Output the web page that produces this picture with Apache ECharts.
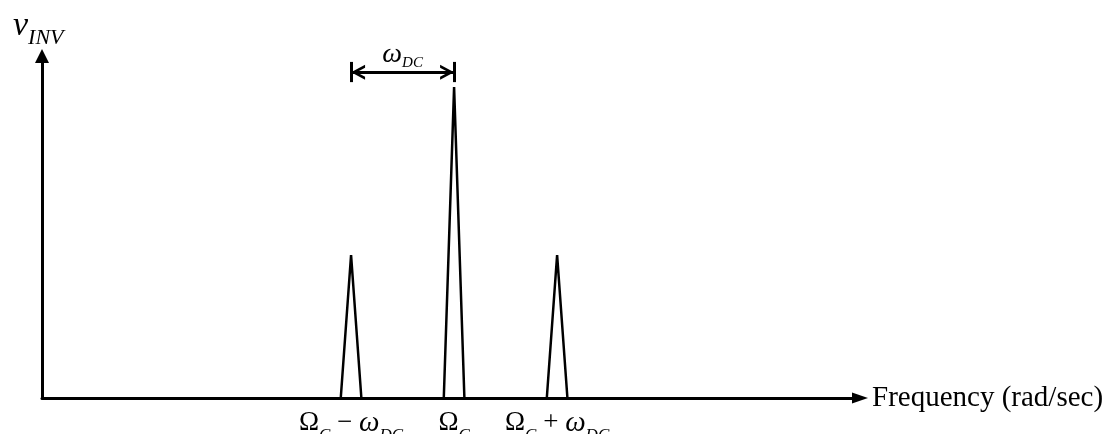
<!DOCTYPE html>
<html>
<head>
<meta charset="utf-8">
<script src="https://cdn.jsdelivr.net/npm/echarts@6/dist/echarts.min.js"></script>
<style>
  html, body { margin: 0; padding: 0; background: #fff; }
  #chart { width: 1106px; height: 434px; }
</style>
</head>
<body>
<div id="chart"></div>
<script>
// frequency in units of omega_DC, carrier Omega_C = 4
var lowerSpike = [[2.9, 0], [3, 0.46], [3.1, 0]];
var carrierSpike = [[3.9, 0], [4, 1.0], [4.1, 0]];
var upperSpike = [[4.9, 0], [5, 0.46], [5.1, 0]];

var tickValues = [3, 4, 5];
var tickLabels = [
    '{om|Ω}{sub|C}{op| − }{w|ω}{sub|DC}',
    '{om|Ω}{sub|C}',
    '{om|Ω}{sub|C}{op| + }{w|ω}{sub|DC}'
];

// bracket showing the spacing omega_DC between sidebands
var bracketLevel = 1.048;
var bracketTick = [1.016, 1.081];
var bracketFrom = 3, bracketTo = 4;

var serif = 'Liberation Serif';
var chartDom = document.getElementById('chart');
var myChart = echarts.init(chartDom);

var chevron = 'path://M0,10L5,0L10,10L8,10L5,4L2,10Z';

function spikeSeries(name, data) {
    return {
        type: 'line',
        name: name,
        data: data,
        showSymbol: false,
        silent: true,
        lineStyle: { color: '#000', width: 2.5 },
        z: 3
    };
}

var carrier = spikeSeries('carrier', carrierSpike);
carrier.markLine = {
    silent: true,
    animation: false,
    symbol: 'none',
    lineStyle: { color: '#000', width: 3, type: 'solid' },
    label: { show: false },
    data: [
        [{ coord: [bracketFrom, bracketTick[0]] }, { coord: [bracketFrom, bracketTick[1]] }],
        [{ coord: [bracketTo, bracketTick[0]] }, { coord: [bracketTo, bracketTick[1]] }],
        [
            {
                coord: [bracketFrom, bracketLevel],
                symbol: chevron,
                symbolSize: [15, 14],
                symbolOffset: [0, 7],
                label: {
                    show: true,
                    position: 'middle',
                    distance: 2,
                    formatter: '{w|ω}{sub|DC}',
                    rich: {
                        w: { fontFamily: serif, fontStyle: 'italic', fontSize: 28, color: '#000', verticalAlign: 'top' },
                        sub: { fontFamily: serif, fontStyle: 'italic', fontSize: 15, color: '#000', verticalAlign: 'top', padding: [15, 0, 0, 0] }
                    }
                }
            },
            { coord: [bracketTo, bracketLevel], symbol: chevron, symbolSize: [15, 14], symbolOffset: [0, 7] }
        ]
    ]
};

var option = {
    animation: false,
    backgroundColor: '#fff',
    title: {
        text: '{v|v}{s|INV}',
        left: 8,
        top: 4,
        textStyle: {
            fontWeight: 'normal',
            rich: {
                v: { fontFamily: serif, fontStyle: 'italic', fontWeight: 'normal', fontSize: 34, color: '#000', verticalAlign: 'top' },
                s: { fontFamily: serif, fontStyle: 'italic', fontWeight: 'normal', fontSize: 22, color: '#000', verticalAlign: 'top', padding: [18, 0, 0, 0] }
            }
        }
    },
    grid: { left: 42, right: 246, top: 56, bottom: 36, outerBoundsMode: 'none', containLabel: false },
    xAxis: {
        type: 'value',
        min: 0,
        max: 7.94,
        name: 'Frequency (rad/sec)',
        nameLocation: 'end',
        nameGap: 12,
        nameTextStyle: { fontFamily: serif, fontSize: 29, color: '#000', verticalAlign: 'middle' },
        axisLine: {
            show: true,
            onZero: false,
            symbol: ['none', 'triangle'],
            symbolSize: [11, 16],
            lineStyle: { color: '#000', width: 3 }
        },
        axisTick: { show: false },
        splitLine: { show: false },
        axisLabel: {
            customValues: tickValues,
            margin: 11,
            formatter: function (v) {
                var i = tickValues.indexOf(v);
                return i >= 0 ? tickLabels[i] : '';
            },
            rich: {
                om: { fontFamily: serif, fontSize: 27, color: '#000', verticalAlign: 'top' },
                op: { fontFamily: serif, fontSize: 27, color: '#000', verticalAlign: 'top' },
                w: { fontFamily: serif, fontStyle: 'italic', fontSize: 29, color: '#000', verticalAlign: 'top' },
                sub: { fontFamily: serif, fontStyle: 'italic', fontSize: 17, color: '#000', verticalAlign: 'top', padding: [18, 0, 0, 0] }
            }
        }
    },
    yAxis: {
        type: 'value',
        min: 0,
        max: 1.1,
        axisLine: {
            show: true,
            symbol: ['none', 'triangle'],
            symbolSize: [14, 14],
            lineStyle: { color: '#000', width: 3 }
        },
        axisTick: { show: false },
        axisLabel: { show: false },
        splitLine: { show: false }
    },
    series: [
        spikeSeries('lower', lowerSpike),
        carrier,
        spikeSeries('upper', upperSpike)
    ]
};

myChart.setOption(option);
</script>
</body>
</html>
